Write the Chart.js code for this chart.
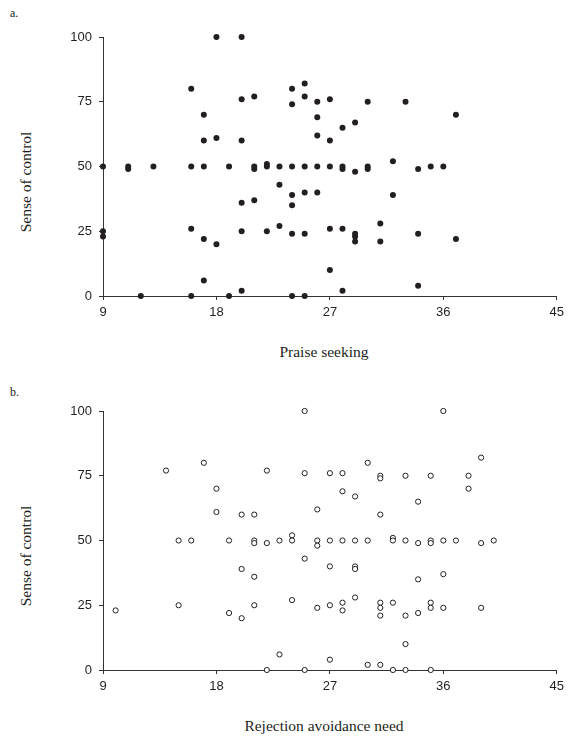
<!DOCTYPE html>
<html>
<head>
<meta charset="utf-8">
<script src="https://cdn.jsdelivr.net/npm/chart.js@4/dist/chart.umd.min.js"></script>
<style>
  html, body { margin:0; padding:0; background:#fff; }
  body { width:569px; height:738px; position:relative; overflow:hidden; }
  canvas { position:absolute; left:0; }
  .txt { position:absolute; font-family:"Liberation Serif","Times New Roman",serif; color:#231f20; white-space:nowrap; line-height:1; }
  .panel { font-size:12px; left:10px; }
  .ttl { font-size:15.5px; transform:translate(-50%,-50%); }
  .ytl { font-size:15.5px; transform:translate(-50%,-50%) rotate(-90deg); }
</style>
</head>
<body>
<div class="txt panel" style="top:7px">a.</div>
<div class="txt panel" style="top:386px">b.</div>
<div class="txt ytl" style="left:25.5px;top:182px">Sense of control</div>
<div class="txt ytl" style="left:25.5px;top:556px">Sense of control</div>
<div class="txt ttl" style="left:324px;top:352px">Praise seeking</div>
<div class="txt ttl" style="left:324px;top:726px">Rejection avoidance need</div>
<canvas id="chartA" width="569" height="330" style="top:0"></canvas>
<canvas id="chartB" width="569" height="330" style="top:374px"></canvas>
<script>
// axis ticks
const xTicks = [9, 18, 27, 36, 45];
const yTicks = [0, 25, 50, 75, 100];

// a. praise seeking vs sense of control
const praiseX = [18,20,16,17,17,18,20,20,21,24,24,25,25,26,26,26,27,30,33,28,29,37,27,32,
  9,11,11,13,16,17,19,21,21,22,22,23,24,25,26,27,28,28,29,30,30,34,35,36,
  23,20,21,24,24,25,26,32,31,
  9,9,16,17,18,20,22,23,24,25,27,28,29,29,29,31,34,37,
  17,27,28,34,20,
  12,16,19,24,25];
const praiseY = [100,100,80,70,60,61,76,60,77,80,74,82,77,75,69,62,76,75,75,65,67,70,60,52,
  50,50,49,50,50,50,50,50,49,51,50,50,50,50,50,50,50,49,48,50,49,49,50,50,
  43,36,37,39,35,40,40,39,28,
  25,23,26,22,20,25,25,27,24,24,26,26,24,23,21,21,24,22,
  6,10,2,4,2,
  0,0,0,0,0];

// b. rejection avoidance need vs sense of control
const rejectX = [14,17,18,18,20,21,22,25,25,26,
  36,39,30,27,28,31,31,33,35,38,28,29,38,34,31,
  15,16,19,21,21,22,23,24,24,26,26,27,28,29,30,32,32,33,34,35,35,36,37,39,40,
  25,20,21,27,29,29,34,36,
  10,15,19,20,21,24,26,27,28,28,29,31,31,31,32,33,34,35,35,36,39,
  23,33,27,30,31,
  22,25,32,33,35];
const rejectY = [77,80,70,61,60,60,77,100,76,62,
  100,82,80,76,76,75,74,75,75,75,69,67,70,65,60,
  50,50,50,50,49,49,50,52,50,50,48,50,50,50,50,51,50,50,49,50,49,50,50,49,50,
  43,39,36,40,40,39,35,37,
  23,25,22,20,25,27,24,25,26,23,28,26,24,21,26,21,22,26,24,24,24,
  6,10,4,2,2,
  0,0,0,0,0];

const ink = '#231f20';
const axisCol = '#333333';
const tickFont = {family: '"Liberation Sans", Arial, sans-serif', size: 13};

function toPoints(xs, ys){
  return xs.map((x, i) => ({x: x, y: ys[i]}));
}

function makeScatter(id, xs, ys, filled){
  const ctx = document.getElementById(id);
  return new Chart(ctx, {
    type: 'scatter',
    data: {datasets: [{
      data: toPoints(xs, ys),
      pointStyle: 'circle',
      pointRadius: filled ? 3 : 2.6,
      pointHoverRadius: filled ? 3 : 2.6,
      backgroundColor: filled ? ink : '#ffffff',
      borderColor: ink,
      borderWidth: filled ? 0 : 1,
      clip: false
    }]},
    options: {
      responsive: false,
      animation: false,
      events: [],
      layout: {padding: {left: 0, right: 10, top: 37, bottom: 0}},
      plugins: {legend: {display: false}, tooltip: {enabled: false}},
      scales: {
        x: {
          type: 'linear', min: xTicks[0], max: xTicks[xTicks.length-1],
          afterBuildTicks: (s) => { s.ticks = xTicks.map(v => ({value: v})); },
          ticks: {font: tickFont, color: ink, padding: 5, maxRotation: 0},
          grid: {drawOnChartArea: false, drawTicks: true, tickLength: 4, color: axisCol},
          border: {display: true, color: axisCol, width: 1},
          afterFit: (s) => { s.height = 34; }
        },
        y: {
          min: yTicks[0], max: yTicks[yTicks.length-1],
          afterBuildTicks: (s) => { s.ticks = yTicks.map(v => ({value: v})); },
          ticks: {font: tickFont, color: ink, padding: 7},
          grid: {drawOnChartArea: false, drawTicks: true, tickLength: 4, color: axisCol},
          border: {display: true, color: axisCol, width: 1},
          afterFit: (s) => { s.width = 103; }
        }
      }
    }
  });
}

makeScatter('chartA', praiseX, praiseY, true);
makeScatter('chartB', rejectX, rejectY, false);
</script>
</body>
</html>
